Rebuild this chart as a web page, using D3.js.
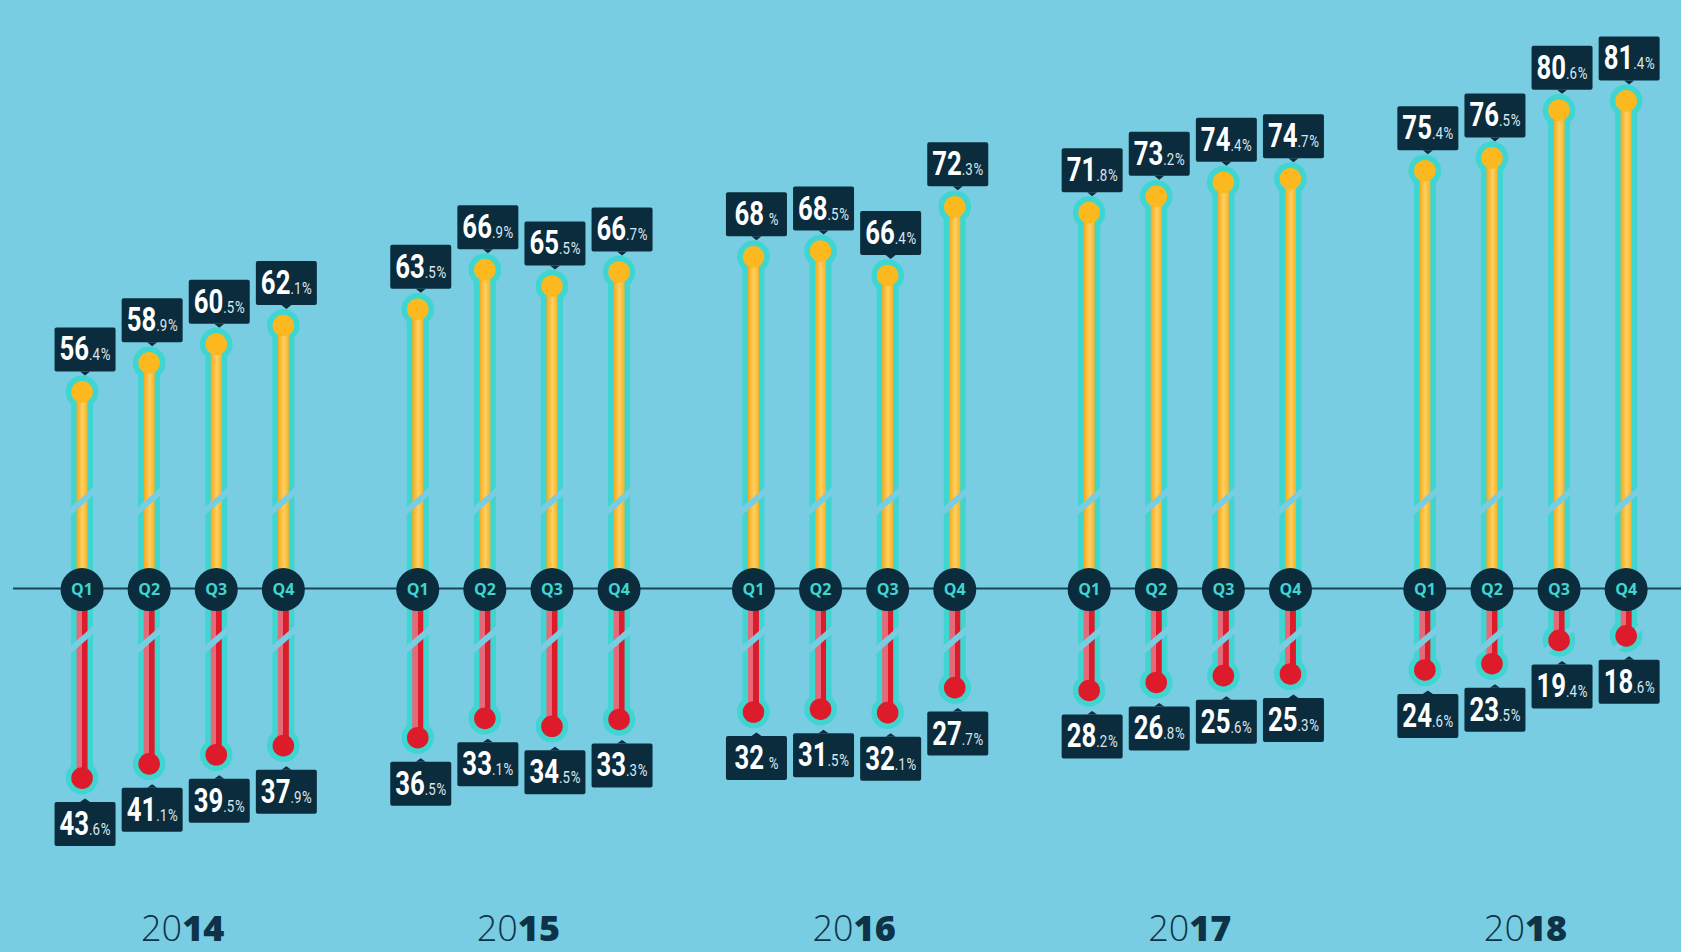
<!DOCTYPE html>
<html>
<head>
<meta charset="utf-8">
<script src="https://cdn.jsdelivr.net/npm/d3@7"></script>
<style>
    html, body { margin: 0; padding: 0; background: #79cde2; overflow: hidden; }
    svg { display: block; }
</style>
</head>
<body>
<svg></svg>
<script>
const width = 1681;
const height = 952;

// Values
const years = [2014, 2015, 2016, 2017, 2018];
const quarters = ["Q1", "Q2", "Q3", "Q4"];
// yellow (upper) series, one per quarter in order
const upperValues = [56.4, 58.9, 60.5, 62.1, 63.5, 66.9, 65.5, 66.7, 68, 68.5, 66.4, 72.3, 71.8, 73.2, 74.4, 74.7, 75.4, 76.5, 80.6, 81.4];
// red (lower) series
const lowerValues = [43.6, 41.1, 39.5, 37.9, 36.5, 33.1, 34.5, 33.3, 32, 31.5, 32.1, 27.7, 28.2, 26.8, 25.6, 25.3, 24.6, 23.5, 19.4, 18.6];

const bg = "#79cde2";
const teal = "#3fd5d0";
const navy = "#0a2c3d";

const svg = d3.select("svg")
    .attr("width", width)
    .attr("height", height);

svg.append("rect").attr("width", width).attr("height", height).attr("fill", bg);

// Gradients for the stems
const defs = svg.append("defs");
const gy = defs.append("linearGradient").attr("id", "gradYellow").attr("x1", 0).attr("x2", 1).attr("y1", 0).attr("y2", 0);
gy.append("stop").attr("offset", "0%").attr("stop-color", "#f4a91c");
gy.append("stop").attr("offset", "55%").attr("stop-color", "#fdd062");
gy.append("stop").attr("offset", "100%").attr("stop-color", "#f7b322");
const gr = defs.append("linearGradient").attr("id", "gradRed").attr("x1", 0).attr("x2", 1).attr("y1", 0).attr("y2", 0);
gr.append("stop").attr("offset", "0%").attr("stop-color", "#e46a7a");
gr.append("stop").attr("offset", "50%").attr("stop-color", "#e46a7a");
gr.append("stop").attr("offset", "50%").attr("stop-color", "#de1b2b");
gr.append("stop").attr("offset", "100%").attr("stop-color", "#de1b2b");

// Scales
const baselineY = 588.6;
const xYear = d3.scaleBand().domain(years).range([48.5, 48.5 + 5 * 335.7]);
const xQuarter = d3.scaleBand().domain(quarters).range([0, 4 * 67.1]);
const yTop = d3.scaleLinear().domain([39.5, 81.4]).range([baselineY, baselineY - 41.9 * 11.64]);
const yBottom = d3.scaleLinear().domain([10.3, 43.6]).range([baselineY, baselineY + 33.3 * 5.69]);

// One record per quarter
const points = [];
years.forEach(function(yr, i) {
    quarters.forEach(function(q, j) {
        points.push({ year: yr, quarter: q, up: upperValues[i * 4 + j], down: lowerValues[i * 4 + j] });
    });
});
const xPos = d => xYear(d.year) + xQuarter(d.quarter) + xQuarter.bandwidth() / 2;

// Horizontal baseline
svg.append("line")
    .attr("x1", 13).attr("x2", width)
    .attr("y1", baselineY).attr("y2", baselineY)
    .attr("stroke", "#1c4254").attr("stroke-width", 2);

const stems = [
    { key: "up", y: d => yTop(d.up), fill: "url(#gradYellow)", dot: "#fbb91f", breakY: yTop(47) },
    { key: "down", y: d => yBottom(d.down), fill: "url(#gradRed)", dot: "#de1b2b", breakY: yBottom(19.3) }
];

// Teal outline of stems and rings
stems.forEach(function(s) {
    svg.append("g").selectAll("rect").data(points).join("rect")
        .attr("x", d => xPos(d) - 11)
        .attr("y", d => Math.min(s.y(d), baselineY))
        .attr("width", 22)
        .attr("height", d => Math.abs(s.y(d) - baselineY))
        .attr("fill", teal);
    svg.append("g").selectAll("circle").data(points).join("circle")
        .attr("cx", xPos).attr("cy", s.y).attr("r", 16.3)
        .attr("fill", teal);
});

// Coloured stems, axis break slashes, coloured dots
stems.forEach(function(s) {
    svg.append("g").selectAll("rect").data(points).join("rect")
        .attr("x", d => xPos(d) - 5.5)
        .attr("y", d => Math.min(s.y(d), baselineY))
        .attr("width", 11)
        .attr("height", d => Math.abs(s.y(d) - baselineY))
        .attr("fill", s.fill);
    svg.append("g").selectAll("line").data(points).join("line")
        .attr("x1", d => xPos(d) - 15).attr("x2", d => xPos(d) + 15)
        .attr("y1", s.breakY + 13).attr("y2", s.breakY - 13)
        .attr("stroke", bg).attr("stroke-width", 6);
    svg.append("g").selectAll("circle").data(points).join("circle")
        .attr("cx", xPos).attr("cy", s.y).attr("r", 10.8)
        .attr("fill", s.dot);
});

// Quarter badges on the baseline
const badges = svg.append("g").selectAll("g").data(points).join("g")
    .attr("transform", d => `translate(${xPos(d)},${baselineY + 1})`);
badges.append("circle").attr("r", 21.5).attr("fill", navy);
badges.append("text")
    .attr("text-anchor", "middle")
    .attr("dy", "0.36em")
    .attr("font-family", "'Open Sans', sans-serif")
    .attr("font-weight", 700)
    .attr("font-size", "16px")
    .attr("fill", teal)
    .text(d => d.quarter);

// Value labels
function drawLabel(d, value, dotY, above) {
    const cx = xPos(d) + 3;
    const boxW = 61, boxH = 44;
    const boxY = above ? dotY - 20.5 - boxH : dotY + 24;
    const tipY = above ? dotY - 16.5 : dotY + 20.5;
    const baseY = above ? dotY - 20.5 - 11 : dotY + 24 + boxH - 11;
    const g = svg.append("g");
    g.append("rect")
        .attr("x", cx - boxW / 2).attr("y", boxY)
        .attr("width", boxW).attr("height", boxH)
        .attr("rx", 2)
        .attr("fill", navy);
    const edge = above ? boxY + boxH : boxY;
    g.append("path")
        .attr("d", `M${cx - 5},${edge}L${cx + 5},${edge}L${cx},${tipY}Z`)
        .attr("fill", navy);

    const parts = String(value).split(".");
    const t = g.append("text")
        .attr("transform", `translate(${cx},${baseY}) scale(0.78,1)`)
        .attr("text-anchor", "middle")
        .attr("font-family", "Roboto, sans-serif");
    t.append("tspan")
        .attr("font-size", "33px").attr("font-weight", 700).attr("fill", "#ffffff")
        .text(parts[0]);
    t.append("tspan")
        .attr("font-size", "17px").attr("font-weight", 400).attr("fill", "#dbe7ee")
        .text(parts[1] ? "." + parts[1] : "");
    t.append("tspan")
        .attr("dx", parts[1] ? 1 : 6)
        .attr("font-size", "17px").attr("font-weight", 400).attr("fill", "#dbe7ee")
        .text("%");
}

points.forEach(function(d) {
    drawLabel(d, d.up, yTop(d.up), true);
    drawLabel(d, d.down, yBottom(d.down), false);
});

// Year labels under each group
const yearText = svg.append("g").selectAll("text").data(years).join("text")
    .attr("x", yr => xYear(yr) + xQuarter.bandwidth() / 2 + (xQuarter("Q4") - xQuarter("Q1")) / 2)
    .attr("y", 941)
    .attr("text-anchor", "middle")
    .attr("font-family", "'Open Sans', sans-serif")
    .attr("font-size", "36px")
    .attr("fill", "#0e3349");
yearText.append("tspan").attr("font-weight", 300).text(yr => String(yr).slice(0, 2));
yearText.append("tspan").attr("font-weight", 800).text(yr => String(yr).slice(2));
</script>
</body>
</html>
